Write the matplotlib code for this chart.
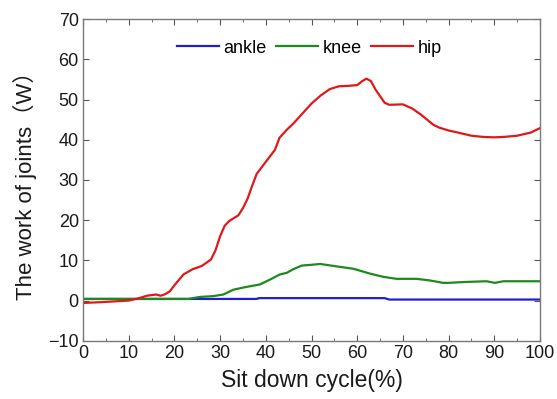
import matplotlib
matplotlib.use("Agg")
import matplotlib.pyplot as plt
from matplotlib.ticker import MultipleLocator

plt.rcParams['font.family'] = ['Liberation Sans', 'Noto Sans CJK SC', 'DejaVu Sans']

# Sit-down cycle (%) sample points and joint work (W)
hip_x = [0, 4, 10, 12, 14, 16, 17, 18, 19, 20, 22, 24, 26, 28, 29, 30, 31, 32, 34,
         35, 36, 37, 38, 40, 42, 43, 44.6, 46, 48, 50, 52, 54, 56, 58, 60, 61, 62,
         63, 64, 66, 67, 70, 72, 74, 76.7, 78, 80, 82, 85, 87.6, 90, 92, 95, 98, 100]
hip_y = [-0.6, -0.4, 0.0, 0.5, 1.2, 1.5, 1.2, 1.6, 2.3, 3.8, 6.5, 7.8, 8.6, 10.2, 12.5,
         16.0, 18.6, 19.8, 21.2, 23.0, 25.3, 28.5, 31.5, 34.5, 37.5, 40.5, 42.5, 44.0,
         46.5, 49.0, 51.0, 52.6, 53.3, 53.4, 53.6, 54.5, 55.2, 54.6, 52.5, 49.2, 48.7,
         48.8, 47.8, 46.2, 43.7, 43.0, 42.3, 41.8, 41.0, 40.7, 40.6, 40.7, 41.0, 41.8, 42.9]

knee_x = [0, 10, 20, 23, 25.6, 28.5, 30.7, 32.9, 35.8, 38.7, 40.9, 43.1, 44.6, 46,
          47.9, 50, 51.9, 55.5, 59.2, 62.8, 65.7, 68.6, 73, 75.9, 78.8, 80, 83.2,
          88.3, 90.1, 92, 100]
knee_y = [0.4, 0.4, 0.4, 0.4, 0.9, 1.1, 1.5, 2.7, 3.4, 4.0, 5.2, 6.5, 6.9, 7.8,
          8.7, 8.9, 9.1, 8.5, 7.9, 6.7, 5.9, 5.4, 5.4, 5.0, 4.4, 4.4, 4.6,
          4.8, 4.4, 4.8, 4.8]

ankle_x = [0, 38, 38.5, 66, 67, 100]
ankle_y = [0.4, 0.4, 0.6, 0.6, 0.25, 0.25]

x_ticks = [0, 10, 20, 30, 40, 50, 60, 70, 80, 90, 100]
y_ticks = [-10, 0, 10, 20, 30, 40, 50, 60, 70]

fig = plt.figure(figsize=(5.57, 3.99), dpi=100)
ax = fig.add_axes([0.149, 0.146, 0.8205, 0.806])

ax.plot(ankle_x, ankle_y, color='#1f1fd0', lw=1.6, label='ankle')
ax.plot(knee_x, knee_y, color='#1e8a1e', lw=1.6, label='knee')
ax.plot(hip_x, hip_y, color='#e01818', lw=1.6, label='hip')

ax.set_xlim(0, 100)
ax.set_ylim(-10, 70)
ax.set_xticks(x_ticks)
ax.set_yticks(y_ticks)
ax.xaxis.set_minor_locator(MultipleLocator(5))
ax.tick_params(which='both', direction='in', top=True, right=True,
               labelsize=13, colors='#555555', labelcolor='#1a1a1a', pad=3)
ax.tick_params(which='major', length=4)
ax.tick_params(which='minor', length=2.5)
for s in ax.spines.values():
    s.set_color('#7a7a7a')
    s.set_linewidth(1.0)

ax.set_xlabel('Sit down cycle(%)', fontsize=16.5, color='#1a1a1a', labelpad=5)
ax.set_ylabel('The work of joints（W）', fontsize=16, color='#1a1a1a', labelpad=8)

ax.legend(loc='center', ncol=3, frameon=False, fontsize=13,
          handlelength=2.35, columnspacing=0.5, handletextpad=0.25,
          bbox_to_anchor=(0.495, 0.91))

fig.savefig('out.png', dpi=100)
